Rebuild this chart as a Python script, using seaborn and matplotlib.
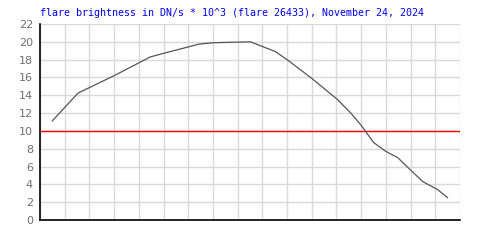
import matplotlib
matplotlib.use("Agg")
import matplotlib.pyplot as plt
import seaborn as sns
import pandas as pd

# data
time_idx = [0.49, 1.54, 3.0, 4.46, 4.99, 6.45, 7.02, 8.52, 9.53, 10.0, 11.0,
            12.05, 12.58, 12.98, 13.5, 14.0, 14.48, 15.0, 15.5, 16.1, 16.5]
brightness = [11.1, 14.25, 16.2, 18.3, 18.7, 19.75, 19.9, 20.0, 18.9, 18.0, 15.9,
              13.5, 12.0, 10.7, 8.7, 7.7, 7.0, 5.6, 4.3, 3.4, 2.5]
threshold = 10
y_ticks = [0, 2, 4, 6, 8, 10, 12, 14, 16, 18, 20, 22]
title = "flare brightness in DN/s * 10^3 (flare 26433), November 24, 2024"

df = pd.DataFrame({"t": time_idx, "b": brightness})

sns.set_style("white")
fig = plt.figure(figsize=(5, 2.5), dpi=100)
ax = fig.add_axes([0.08, 0.12, 0.84, 0.784])

ax.set_xlim(0, 17)
ax.set_ylim(0, 22)
ax.set_xticks(range(0, 18))
ax.set_yticks(y_ticks)
ax.grid(True, color="#d9d9d9", linewidth=1)
ax.set_axisbelow(True)

ax.axhline(threshold, color="#ff0000", linewidth=1, zorder=2)
sns.lineplot(data=df, x="t", y="b", ax=ax, color="#555555", linewidth=0.9, zorder=3)

ax.set_xlabel("")
ax.set_ylabel("")
ax.set_xticklabels([])
ax.tick_params(axis="both", length=0)
ax.tick_params(axis="y", pad=5, labelsize=8, labelcolor="#707070")
for s in ["top", "right"]:
    ax.spines[s].set_visible(False)
for s in ["left", "bottom"]:
    ax.spines[s].set_color("black")
    ax.spines[s].set_linewidth(1.2)

fig.text(0.08, 0.946, title, color="#0000ff", fontsize=7.2,
         family="DejaVu Sans Mono", ha="left", va="center")

fig.savefig("out.png", dpi=100)
